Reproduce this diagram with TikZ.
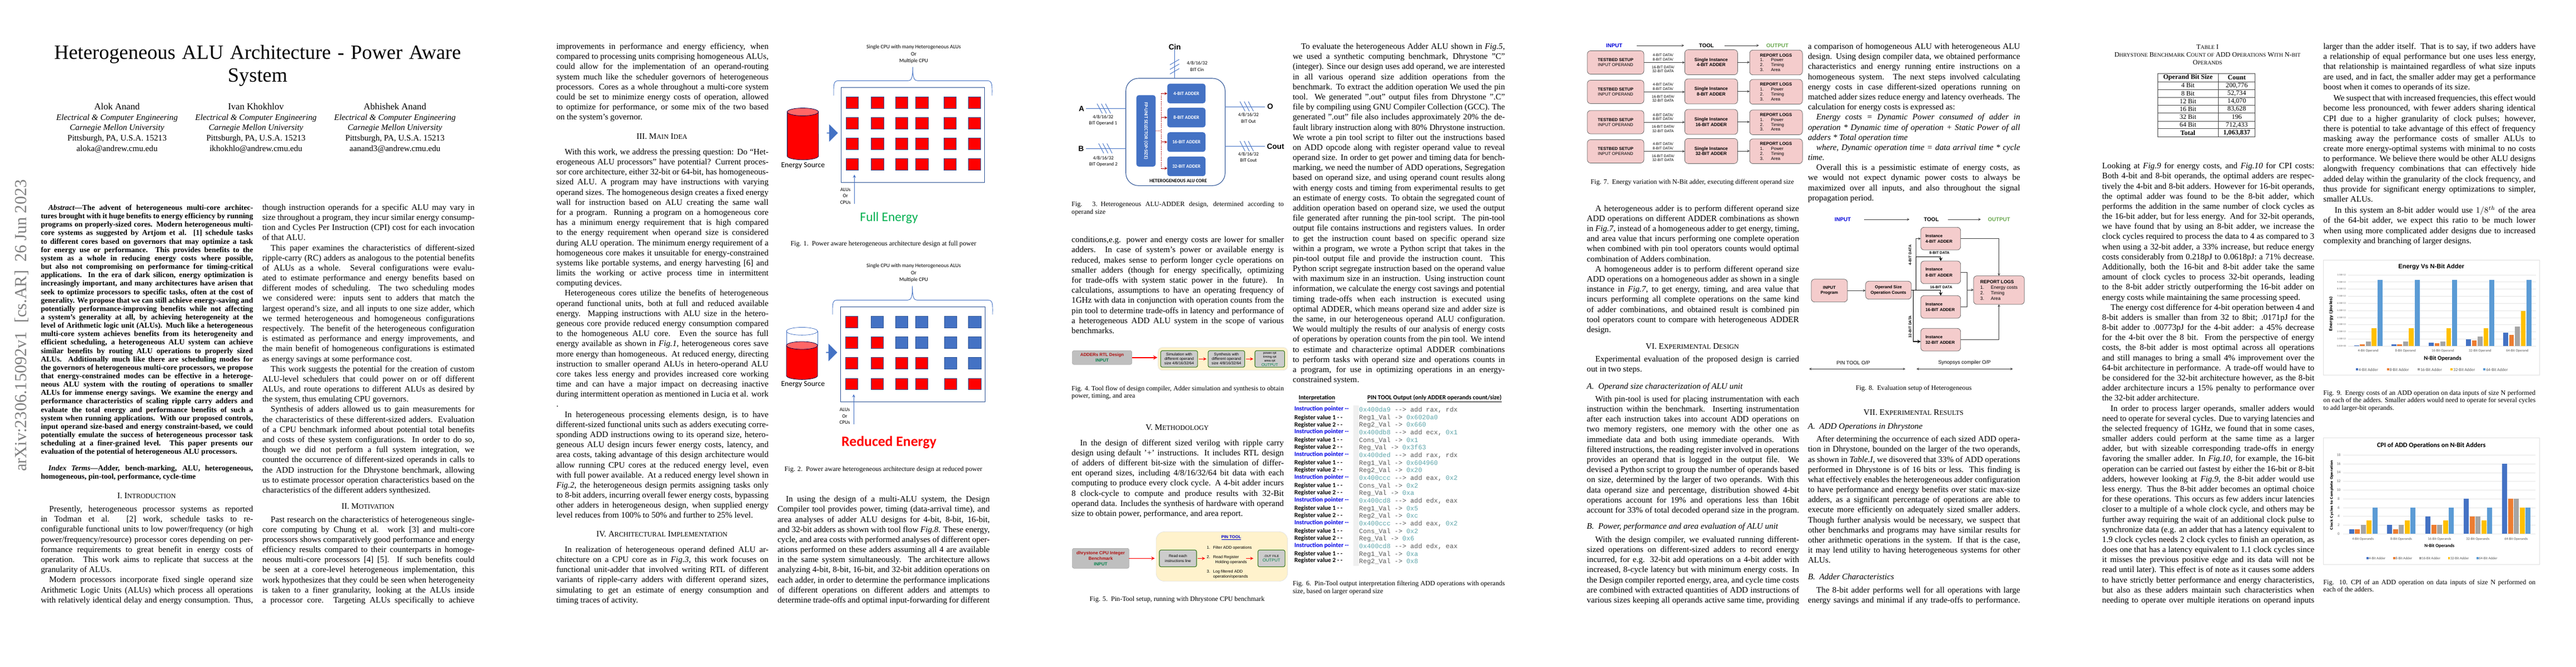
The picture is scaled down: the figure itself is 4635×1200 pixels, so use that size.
\documentclass[tikz,border=0pt]{standalone}
\usepackage{fontspec}
\setmainfont{Liberation Serif}
\setsansfont{Liberation Sans}
\setmonofont{Liberation Mono}
\newfontfamily\calibrifont{Carlito}
\newfontfamily\dejavufont{DejaVu Sans}
\usepackage{xcolor}
\usetikzlibrary{shapes.arrows, positioning, calc, arrows.meta}
\definecolor{alublue}{RGB}{68, 114, 196}
\definecolor{coreblue}{RGB}{47, 85, 151}
\definecolor{darkred}{RGB}{176, 16, 16}
\definecolor{fullgreen}{RGB}{0, 176, 80}
\definecolor{inputgreen}{RGB}{0, 128, 72}
\definecolor{outgreen}{RGB}{106, 168, 79}
\definecolor{boxgreen}{RGB}{56, 118, 29}
\definecolor{toolyellow}{RGB}{255, 242, 204}
\definecolor{boxpink}{RGB}{244, 204, 204}
\definecolor{hexteal}{RGB}{95, 165, 170}
\definecolor{barblue}{RGB}{68, 114, 196}
\definecolor{barorange}{RGB}{237, 125, 49}
\definecolor{bargray}{RGB}{165, 165, 165}
\definecolor{baryellow}{RGB}{255, 192, 0}
\definecolor{barsky}{RGB}{91, 155, 213}
\newcommand{\brk}{\linebreak}
\newcommand{\newp}[1][0pt]{\par\vspace{#1}\hspace*{1em}}
\newcommand{\colend}{{\parfillskip=0pt\par}}
\newcommand{\smc}[1]{{\fontsize{8}{9.6}\selectfont #1}}
\newcommand{\capsmc}[1]{{\fontsize{6.4}{9}\selectfont #1}}
\newcommand{\hexv}[1]{\textcolor{hexteal}{#1}}
\tikzset{
    bodycol/.style={
        anchor=base west, text width=252pt, align=justify,
        font=\fontsize{10}{12}\selectfont,
        execute at begin node={\hbadness=10000\spaceskip=.25em plus .4em minus .14em\relax}
    },
    abstractcol/.style={
        bodycol, font=\bfseries\fontsize{9}{10}\selectfont
    },
    capcol/.style={
        bodycol, font=\fontsize{8}{9}\selectfont
    },
    capcenter/.style={
        anchor=base, font=\fontsize{8}{9}\selectfont
    },
    headcenter/.style={
        anchor=base, font=\fontsize{10}{12}\selectfont
    },
    subhead/.style={
        anchor=base west, font=\itshape\fontsize{10}{12}\selectfont
    },
    boxsize/.style 2 args={
        minimum width=#1*0.66pt, minimum height=#2*0.66pt
    },
    sansfont/.style 2 args={font=\sffamily\fontsize{#1}{#2}\selectfont},
    sansbold/.style 2 args={font=\sffamily\bfseries\fontsize{#1}{#2}\selectfont},
    calfont/.style 2 args={font=\calibrifont\fontsize{#1}{#2}\selectfont},
    calbold/.style 2 args={font=\calibrifont\bfseries\fontsize{#1}{#2}\selectfont},
    alusquare/.style={
        draw=coreblue, line width=0.3pt, boxsize={22.3}{20.7}
    },
    adderbox/.style={
        fill=alublue, rounded corners=3pt, text=white, calbold={5.8}{7}
    },
    busline/.style={
        draw=alublue, line width=0.6pt
    },
    reddash/.style={
        draw=darkred, line width=0.5pt, dashed, dash pattern=on 1.4pt off 0.8pt
    },
    graybox/.style={
        draw=black!35, fill=black!25, rounded corners=2pt, line width=0.4pt, align=center
    },
    greenbox/.style={
        draw=boxgreen, fill=black!20, rounded corners=2pt, line width=0.7pt, align=center
    },
    yellowbox/.style={
        draw=black!12, fill=toolyellow, rounded corners=5pt, line width=0.4pt
    },
    flowarrow/.style={
        ->, >=stealth, red, line width=0.7pt
    },
    pinkbox/.style={
        draw=black!60, fill=boxpink, rounded corners=4pt, line width=0.5pt, align=center
    },
    thinarrow/.style={
        ->, >=stealth, black!75, line width=0.35pt
    },
    thinline/.style={
        black!75, line width=0.35pt
    },
    thickbus/.style={
        ->, >=stealth, black, line width=0.8pt
    },
    chartframe/.style={
        draw=black!12, line width=0.4pt, fill=white, boxsize={389.2}{207}
    },
    gridline/.style={
        draw=black!10, line width=0.3pt
    }
}
\begin{document}
\begin{tikzpicture}[
        x=0.66pt, y=-0.66pt,
        every node/.append style={inner sep=0pt, outer sep=0pt},
        >=stealth
    ]
    \useasboundingbox (0,0) rectangle (4635,1200);

    % ======================================
    % PAGE 1
    % ======================================
    \node[rotate=90, text=black!50, font=\fontsize{20}{24}\selectfont] (stamp) at (39,586)
        {arXiv:2306.15092v1\ \ [cs.AR]\ \ 26 Jun 2023};

    \node[align=center, font=\fontsize{24}{27}\selectfont] (title) at (463.5,118)
        {\makebox[483pt][s]{Heterogeneous ALU Architecture - Power Aware}\\System};

    \foreach \authx/\authname/\authmail [count=\authidx] in
        {210.6/Alok Anand/aloka, 460.5/Ivan Khokhlov/ikhokhlo, 710.6/Abhishek Anand/aanand3}{
        \node[align=center, font=\fontsize{10}{12.3}\selectfont] (author\authidx) at (\authx,230.5)
            {{\fontsize{11}{12.3}\selectfont \authname}\\\textit{Electrical \& Computer Engineering}\\
             \textit{Carnegie Mellon University}\\Pittsburgh, PA, U.S.A. 15213\\\authmail @andrew.cmu.edu};
    }

    \node[abstractcol] (abstract) at (73.5,378.5) {\hspace*{1em}\textit{Abstract}---The advent of heterogeneous multi-core architec-\brk
tures brought with it huge benefits to energy efficiency by running\brk
programs on properly-sized cores. Modern heterogeneous multi-\brk
core systems as suggested by Artjom et al. [1] schedule tasks\brk
to different cores based on governors that may optimize a task\brk
for energy use or performance. This provides benefits to the\brk
system as a whole in reducing energy costs where possible,\brk
but also not compromising on performance for timing-critical\brk
applications. In the era of dark silicon, energy optimization is\brk
increasingly important, and many architectures have arisen that\brk
seek to optimize processors to specific tasks, often at the cost of\brk
generality. We propose that we can still achieve energy-saving and\brk
potentially performance-improving benefits while not affecting\brk
a system's generality at all, by achieving heterogeneity at the\brk
level of Arithmetic logic unit (ALUs). Much like a heterogeneous\brk
multi-core system achieves benefits from its heterogeneity and\brk
efficient scheduling, a heterogeneous ALU system can achieve\brk
similar benefits by routing ALU operations to properly sized\brk
ALUs. Additionally much like there are scheduling modes for\brk
the governors of heterogeneous multi-core processors, we propose\brk
that energy-constrained modes can be effective in a heteroge-\brk
neous ALU system with the routing of operations to smaller\brk
ALUs for immense energy savings. We examine the energy and\brk
performance characteristics of scaling ripple carry adders and\brk
evaluate the total energy and performance benefits of such a\brk
system when running applications. With our proposed controls,\brk
input operand size-based and energy constraint-based, we could\brk
potentially emulate the success of heterogeneous processor task\brk
scheduling at a finer-grained level. This paper presents our\brk
evaluation of the potential of heterogeneous ALU processors.};

    \node[abstractcol] (indexterms) at (73.5,847) {\hspace*{1em}\textit{Index Terms}---Adder, bench-marking, ALU, heterogeneous,\brk
homogeneous, pin-tool, performance, cycle-time};

    \node[headcenter] (headintro) at (263.8,897.5) {I. I\smc{NTRODUCTION}};

    \node[bodycol] (introtext) at (73.5,921.6) {\hspace*{1em}Presently, heterogeneous processor systems as reported\brk
in Todman et al. [2] work, schedule tasks to re-\brk
configurable functional units to low power/frequency (or high\brk
power/frequency/resource) processor cores depending on per-\brk
formance requirements to great benefit in energy costs of\brk
operation. This work aims to replicate that success at the\brk
granularity of ALUs.
\newp Modern processors incorporate fixed single operand size\brk
Arithmetic Logic Units (ALUs) which process all operations\brk
with relatively identical delay and energy consumption. Thus,\colend};

    \node[bodycol] (introcont) at (472,378.3) {though instruction operands for a specific ALU may vary in\brk
size throughout a program, they incur similar energy consump-\brk
tion and Cycles Per Instruction (CPI) cost for each invocation\brk
of that ALU.
\newp This paper examines the characteristics of different-sized\brk
ripple-carry (RC) adders as analogous to the potential benefits\brk
of ALUs as a whole. Several configurations were evalu-\brk
ated to estimate performance and energy benefits based on\brk
different modes of scheduling. The two scheduling modes\brk
we considered were: inputs sent to adders that match the\brk
largest operand's size, and all inputs to one size adder, which\brk
we termed heterogeneous and homogeneous configurations\brk
respectively. The benefit of the heterogeneous configuration\brk
is estimated as performance and energy improvements, and\brk
the main benefit of homogeneous configurations is estimated\brk
as energy savings at some performance cost.
\newp This work suggests the potential for the creation of custom\brk
ALU-level schedulers that could power on or off different\brk
ALUs, and route operations to different ALUs as desired by\brk
the system, thus emulating CPU governors.
\newp Synthesis of adders allowed us to gain measurements for\brk
the characteristics of these different-sized adders. Evaluation\brk
of a CPU benchmark informed about potential total benefits\brk
and costs of these system configurations. In order to do so,\brk
though we did not perform a full system integration, we\brk
counted the occurrence of different-sized operands in calls to\brk
the ADD instruction for the Dhrystone benchmark, allowing\brk
us to estimate processor operation characteristics based on the\brk
characteristics of the different adders synthesized.};

    \node[headcenter] (headmotiv) at (662,916.3) {II. M\smc{OTIVATION}};

    \node[bodycol] (motivtext) at (472,940) {\hspace*{1em}Past research on the characteristics of heterogeneous single-\brk
core computing by Chung et al. work [3] and multi-core\brk
processors shows comparatively good performance and energy\brk
efficiency results compared to their counterparts in homoge-\brk
neous multi-core processors [4] [5]. If such benefits could\brk
be seen at a core-level heterogeneous implementation, this\brk
work hypothesizes that they could be seen when heterogeneity\brk
is taken to a finer granularity, looking at the ALUs inside\brk
a processor core. Targeting ALUs specifically to achieve\colend};

    % ======================================
    % PAGE 2
    % ======================================
    \node[bodycol] (motivcont) at (1001,88.6) {improvements in performance and energy efficiency, when\brk
compared to processing units comprising homogeneous ALUs,\brk
could allow for the implementation of an operand-routing\brk
system much like the scheduler governors of heterogeneous\brk
processors. Cores as a whole throughout a multi-core system\brk
could be set to minimize energy costs of operation, allowed\brk
to optimize for performance, or some mix of the two based\brk
on the system's governor.};

    \node[headcenter] (headidea) at (1191,250.5) {III. M\smc{AIN} I\smc{DEA}};

    \node[bodycol] (ideatext) at (1001,278.4) {\hspace*{1em}With this work, we address the pressing question: Do “Het-\brk
erogeneous ALU processors” have potential? Current proces-\brk
sor core architecture, either 32-bit or 64-bit, has homogeneous-\brk
sized ALU. A program may have instructions with varying\brk
operand sizes. The homogeneous design creates a fixed energy\brk
wall for instruction based on ALU creating the same wall\brk
for a program. Running a program on a homogeneous core\brk
has a minimum energy requirement that is high compared\brk
to the energy requirement when operand size is considered\brk
during ALU operation. The minimum energy requirement of a\brk
homogeneous core makes it unsuitable for energy-constrained\brk
systems like portable systems, and energy harvesting [6] and\brk
limits the working or active process time in intermittent\brk
computing devices.
\newp Heterogeneous cores utilize the benefits of heterogeneous\brk
operand functional units, both at full and reduced available\brk
energy. Mapping instructions with ALU size in the hetero-\brk
geneous core provide reduced energy consumption compared\brk
to the homogeneous ALU core. Even the source has full\brk
energy available as shown in \emph{Fig.1}, heterogeneous cores save\brk
more energy than homogeneous. At reduced energy, directing\brk
instruction to smaller operand ALUs in hetero-operand ALU\brk
core takes less energy and provides increased core working\brk
time and can have a major impact on decreasing inactive\brk
during intermittent operation as mentioned in Lucia et al. work\brk
[7].
\newp In heterogeneous processing elements design, is to have\brk
different-sized functional units such as adders executing corre-\brk
sponding ADD instructions owing to its operand size, hetero-\brk
geneous ALU design incurs fewer energy costs, latency, and\brk
area costs, taking advantage of this design architecture would\brk
allow running CPU cores at the reduced energy level, even\brk
with full power available. At a reduced energy level shown in\brk
\emph{Fig.2}, the heterogeneous design permits assigning tasks only\brk
to 8-bit adders, incurring overall fewer energy costs, bypassing\brk
other adders in heterogeneous design, when supplied energy\brk
level reduces from 100\% to 50\% and further to 25\% level.};

    \node[headcenter] (headarch) at (1191,966.8) {IV. A\smc{RCHITECTURAL} I\smc{MPLEMENTATION}};

    \node[bodycol] (archtext) at (1001,994.4) {\hspace*{1em}In realization of heterogeneous operand defined ALU ar-\brk
chitecture on a CPU core as in \emph{Fig.3}, this work focuses on\brk
functional unit-adder that involved writing RTL of different\brk
variants of ripple-carry adders with different operand sizes,\brk
simulating to get an estimate of energy consumption and\brk
timing traces of activity.};

    % Fig. 1: full energy
    \foreach \lineY/\cputext [count=\lineidx] in {85/Single CPU with many Heterogeneous ALUs, 97.2/Or, 109.5/Multiple CPU}{
        \node[calfont={6.4}{8}] (fullcpu\lineidx) at (1644,\lineY) {\cputext};
    }
    \draw[busline] (1500,172) .. controls (1500,155) and (1499,145.4) .. (1508,145.4) -- (1634,145.4)
        .. controls (1640,145.4) and (1642.3,140) .. (1642.3,120.5)
        .. controls (1642.3,140) and (1644.6,145.4) .. (1651,145.4) -- (1777,145.4)
        .. controls (1786,145.4) and (1785,155) .. (1785,172);
    \node[draw=coreblue, line width=0.5pt, boxsize={258.6}{170.7}] (fullcore) at (1642.3,242.6) {};
    \foreach \rowY [count=\rowidx] in {184.8,221.5,258.7,295.8}{
        \foreach \colX [count=\colidx] in {1533.5,1578.8,1622.5,1658.8,1709.3,1753.3}{
            \node[alusquare, fill=red] (fullalu\rowidx\colidx) at (\colX,\rowY) {};
        }
    }
    \filldraw[fill=red, draw=black!70!blue, line width=0.5pt] (1416.4,201.5) -- (1416.4,280.8)
        arc[start angle=180, end angle=360, x radius=18.6pt, y radius=4.6pt] -- (1472.7,201.5);
    \filldraw[fill=red!60!white, draw=black!70!blue, line width=0.5pt] (1444.5,201.5) ellipse[x radius=18.6pt, y radius=4.6pt];
    \node[single arrow, fill=alublue, boxsize={31.5}{20}, single arrow head extend=3.3pt, single arrow head indent=0pt] (fullflow) at (1497.2,239.5) {};
    \node[calfont={9}{11}] (fullsource) at (1444.8,298.5) {Energy Source};
    \node[calfont={6}{7.6}, align=center] (fullunits) at (1521.3,353) {ALUs\\Or\\CPUs};
    \coordinate (fullunitstip) at (1537.3,314.6);
    \draw[->, >=stealth, busline] (fullunitstip |- fullunits.south) -- (fullunitstip);
    \node[calfont={15.5}{18}, text=fullgreen] (fulltitle) at (1599.6,392) {Full Energy};
    \node[capcenter] (capone) at (1589.6,442) {Fig. 1.\enskip Power aware heterogeneous architecture design at full power};

    % Fig. 2: reduced energy
    \foreach \lineY/\cputext [count=\lineidx] in {479/Single CPU with many Heterogeneous ALUs, 491.4/Or, 503.6/Multiple CPU}{
        \node[calfont={6.4}{8}] (redcpu\lineidx) at (1644,\lineY) {\cputext};
    }
    \draw[busline] (1498,566.4) .. controls (1498,549) and (1497,540.4) .. (1506,540.4) -- (1633,540.4)
        .. controls (1639.5,540.4) and (1641.7,535) .. (1641.7,514.7)
        .. controls (1641.7,535) and (1644,540.4) .. (1650,540.4) -- (1778,540.4)
        .. controls (1787,540.4) and (1786,549) .. (1786,566.4);
    \node[draw=coreblue, line width=0.5pt, boxsize={260}{170.6}] (redcore) at (1642,637.9) {};
    \foreach \rowY/\nred [count=\rowidx] in {579.4/1, 616.4/2, 653.8/4, 691.1/6}{
        \foreach \colX [count=\colidx] in {1532,1578.3,1622.5,1658.3,1710,1753.8}{
            \ifnum\colidx>\nred \def\alucol{alublue}\else\def\alucol{red}\fi
            \node[alusquare, fill=\alucol] (redalu\rowidx\colidx) at (\colX,\rowY) {};
        }
    }
    \draw[draw=alublue, line width=0.5pt] (1415,596.4) -- (1415,622) (1471,596.4) -- (1471,622);
    \draw[draw=alublue, line width=0.5pt] (1443,596.4) ellipse[x radius=18.5pt, y radius=4.6pt];
    \filldraw[fill=red, draw=black!70!blue, line width=0.5pt] (1415,622) -- (1415,676.4)
        arc[start angle=180, end angle=360, x radius=18.5pt, y radius=4.6pt] -- (1471,622);
    \filldraw[fill=red!60!white, draw=black!70!blue, line width=0.5pt] (1443,622) ellipse[x radius=18.5pt, y radius=4.6pt];
    \node[single arrow, fill=alublue, boxsize={31.5}{20}, single arrow head extend=3.3pt, single arrow head indent=0pt] (redflow) at (1496,634.6) {};
    \node[calfont={9}{11}] (redsource) at (1444.8,691.8) {Energy Source};
    \node[calfont={6}{7.6}, align=center] (redunits) at (1520,749.5) {ALUs\\Or\\CPUs};
    \coordinate (redunitstip) at (1536,710);
    \draw[->, >=stealth, busline] (redunitstip |- redunits.south) -- (redunitstip);
    \node[calbold={17}{20}, text=red] (redtitle) at (1599.6,797) {Reduced Energy};
    \node[capcenter] (captwo) at (1589.6,848.3) {Fig. 2.\enskip Power aware heterogeneous architecture design at reduced power};

    \node[bodycol] (designtext) at (1399,903.7) {\hspace*{1em}In using the design of a multi-ALU system, the Design\brk
Compiler tool provides power, timing (data-arrival time), and\brk
area analyses of adder ALU designs for 4-bit, 8-bit, 16-bit,\brk
and 32-bit adders as shown with tool flow \emph{Fig.8}. These energy,\brk
cycle, and area costs with performed analyses of different oper-\brk
ations performed on these adders assuming all 4 are available\brk
in the same system simultaneously. The architecture allows\brk
analyzing 4-bit, 8-bit, 16-bit, and 32-bit addition operations on\brk
each adder, in order to determine the performance implications\brk
of different operations on different adders and attempts to\brk
determine trade-offs and optimal input-forwarding for different\colend};

    % ======================================
    % PAGE 3
    % ======================================
    % Fig. 3: ALU core
    \node[draw=coreblue, line width=0.7pt, fill=white, rounded corners=15pt, boxsize={178.6}{193.3}] (corebox) at (2115,237.65) {};
    \node[adderbox, boxsize={128.7}{34.6}, rotate=-90] (selector) at (2062,235.65) {FP-UNIT SELECTOR (OP-SIZE)};
    \foreach \addY/\addbits [count=\addidx] in {168.35/4-BIT, 211.65/8-BIT, 255.8/16-BIT, 299.5/32-BIT}{
        \node[adderbox, boxsize={68.7}{35.3}] (adder\addidx) at (2134.65,\addY) {\addbits\ ADDER};
    }
    \node[calbold={5.8}{7}] (corename) at (2120,325.7) {HETEROGENEOUS ALU CORE};
    \coordinate (redbus) at (2089.3,235.7);
    \draw[reddash] (selector.north) -- (redbus);
    \draw[reddash] (redbus |- adder1.west) -- (2089.3,303);
    \foreach \addidx in {1,2,3}{
        \draw[->, >=stealth, darkred, line width=0.5pt] (redbus |- adder\addidx.west) -- (adder\addidx.west);
    }
    \draw[->, >=stealth, darkred, line width=0.5pt] (2089.3,303) -- (2100.3,303);
    \node[sansbold={9}{11}] (portcin) at (2113.8,84.3) {Cin};
    \node[sansbold={9}{11}] (porta) at (1946,195.7) {A};
    \node[sansbold={9}{11}] (portb) at (1945.3,267.7) {B};
    \node[sansbold={9}{11}] (porto) at (2285.3,192) {O};
    \node[sansbold={9}{11}] (portcout) at (2295,263.3) {Cout};
    \draw[busline] (portcin.south) -- (portcin.south |- corebox.north);
    \draw[busline, shorten <=2.3pt] (porta.east) -- (porta.east -| corebox.west);
    \draw[busline, shorten <=2.3pt] (portb.east) -- (portb.east -| corebox.west);
    \draw[busline, shorten >=2.6pt] (porto.west -| corebox.east) -- (porto.west);
    \draw[busline, shorten >=2pt] (portcout.west -| corebox.east) -- (portcout.west);
    \foreach \dd in {0,8.3,16.6}{
        \draw[busline] (2105,116.7+\dd) -- (2121.7,107+\dd);
    }
    \foreach \dd in {0,7.6,15}{
        \draw[busline] (1974+\dd,186.7) -- (1983.3+\dd,204.3);
        \draw[busline] (1976.7+\dd,258.3) -- (1986+\dd,276);
        \draw[busline] (2231+\dd,182.7) -- (2240.3+\dd,200.3);
        \draw[busline] (2231+\dd,254) -- (2240.3+\dd,272.3);
    }
    \foreach \noteX/\noteY/\notetext [count=\noteidx] in
        {2154/119.5/BIT Cin, 1984.7/216.5/BIT Operand 1, 1985.3/290.8/BIT Operand 2, 2246.3/212.5/BIT Out, 2246.3/283/BIT Cout}{
        \node[calfont={5.8}{7.5}, align=center] (busnote\noteidx) at (\noteX,\noteY) {4/8/16/32\\\notetext};
    }
    \node[capcol] (capthree) at (1928.2,371.5) {Fig. 3.\enskip Heterogeneous ALU-ADDER design, determined according to\brk
operand size};

    \node[bodycol] (condtext) at (1928.2,436.8) {conditions,e.g. power and energy costs are lower for smaller\brk
adders. In case of system's power or available energy is\brk
reduced, makes sense to perform longer cycle operations on\brk
smaller adders (though for energy specifically, optimizing\brk
for trade-offs with system static power in the future). In\brk
calculations, assumptions to have an operating frequency of\brk
1GHz with data in conjunction with operation counts from the\brk
pin tool to determine trade-offs in latency and performance of\brk
a heterogeneous ADD ALU system in the scope of various\brk
benchmarks.};

    % Fig. 4: tool flow
    \node[graybox, boxsize={107.3}{24.9}, sansbold={5.2}{6.5}] (addersin) at (1983,643.85)
        {\textcolor{darkred}{ADDERs RTL Design}\\\textcolor{inputgreen}{INPUT}};
    \node[yellowbox, boxsize={233}{41}] (flowbg) at (2200.2,646.1) {};
    \node[greenbox, boxsize={66.4}{29.8}, sansfont={4.6}{5.4}] (simbox) at (2121.6,646.3) {Simulation with\\different operand\\size 4/8/16/32/64};
    \node[greenbox, boxsize={65.8}{29.8}, sansfont={4.6}{5.4}] (synbox) at (2206.7,646.3) {Synthesis with\\different operand\\size 4/8/16/32/64};
    \node[greenbox, boxsize={53.4}{29.8}, sansfont={3.8}{4.6}] (rptbox) at (2284.7,646.3) {power.rpt\\timing.rpt\\area.rpt\\[0.8pt]{\fontsize{4.8}{5}\selectfont\textcolor{inputgreen}{OUTPUT}}};
    \draw[flowarrow, line width=1.2pt, shorten >=0.8pt] (addersin.east) -- (addersin.east -| flowbg.west);
    \draw[flowarrow, shorten <=1.5pt, shorten >=2pt] (simbox) -- (synbox);
    \draw[flowarrow, shorten <=1.5pt, shorten >=2pt] (synbox) -- (rptbox);
    \node[capcol] (capfour) at (1928.2,703.3) {Fig. 4.\ Tool flow of design compiler, Adder simulation and synthesis to obtain\brk
power, timing, and area};

    \node[headcenter] (headmeth) at (2118,774) {V. M\smc{ETHODOLOGY}};

    \node[bodycol] (methtext) at (1928.2,802.2) {\hspace*{1em}In the design of different sized verilog with ripple carry\brk
design using default '+' instructions. It includes RTL design\brk
of adders of different bit-size with the simulation of differ-\brk
ent operand sizes, including 4/8/16/32/64 bit data with each\brk
computing to produce every clock cycle. A 4-bit adder incurs\brk
8 clock-cycle to compute and produce results with 32-Bit\brk
operand data. Includes the synthesis of hardware with operand\brk
size to obtain power, performance, and area report.};

    % Fig. 5: pin tool
    \node[graybox, boxsize={102}{36}, sansbold={5.3}{6.6}] (benchin) at (1980.4,1005.3)
        {\textcolor{darkred}{dhrystone CPU Integer}\\\textcolor{darkred}{Benchmark}\\\textcolor{inputgreen}{INPUT}};
    \node[yellowbox, rounded corners=10pt, boxsize={236.7}{89.2}] (pinbg) at (2198.4,1002) {};
    \node[sansbold={5}{6}, text=blue!80!black] (pintitle) at (2215.3,968.2) {\underline{PIN TOOL}};
    \node[greenbox, boxsize={67}{30.2}, sansfont={4.5}{5.6}] (readbox) at (2119.5,1005.5) {Read each\\instructions line};
    \node[greenbox, boxsize={48.7}{30.2}, sansfont={3.8}{5.5}] (outfile) at (2287.7,1005.5) {.OUT FILE\\{\fontsize{5.1}{5.5}\selectfont\textcolor{inputgreen}{OUTPUT}}};
    \node[anchor=west, sansfont={4.8}{5.6}] (itemone) at (2171.4,986.9) {\makebox[7.5pt][l]{1.}Filter ADD operations};
    \node[anchor=west, sansfont={4.8}{5.6}, align=left] (itemtwo) at (2171.4,1008.3) {\makebox[7.5pt][l]{2.}Read Register\\\hspace*{10pt}Holding operands};
    \node[anchor=west, sansfont={4.8}{5.6}, align=left] (itemthree) at (2171.4,1034.3) {\makebox[7.5pt][l]{3.}Log filtered ADD\\\hspace*{7.5pt}operation/operands};
    \draw[flowarrow, line width=0.9pt, shorten >=1.5pt] (benchin.east) -- (benchin.east -| pinbg.west);
    \draw[flowarrow, shorten <=1.6pt, shorten >=2pt] (readbox.east) -- (readbox.east -| itemtwo.west);
    \coordinate (itemtwoout) at (2242,1005.5);
    \draw[flowarrow, shorten >=5.4pt] (itemtwoout) -- (itemtwoout -| outfile.west);
    \node[capcenter] (capfive) at (2118,1082.1) {Fig. 5.\enskip Pin-Tool setup, running with Dhrystone CPU benchmark};

    \node[bodycol] (evaltext) at (2326,88.6) {\hspace*{1em}To evaluate the heterogeneous Adder ALU shown in \emph{Fig.5},\brk
we used a synthetic computing benchmark, Dhrystone ”C”\brk
(integer). Since our design uses add operand, we are interested\brk
in all various operand size addition operations from the\brk
benchmark. To extract the addition operation We used the pin\brk
[8] tool. We generated ”.out” output files from Dhrystone ”.C”\brk
file by compiling using GNU Compiler Collection (GCC). The\brk
generated ”.out” file also includes approximately 20\% the de-\brk
fault library instruction along with 80\% Dhrystone instruction.\brk
We wrote a pin tool script to filter out the instructions based\brk
on ADD opcode along with register operand value to reveal\brk
operand size. In order to get power and timing data for bench-\brk
marking, we need the number of ADD operations, Segregation\brk
based on operand size, and using operand count results along\brk
with energy costs and timing from experimental results to get\brk
an estimate of energy costs. To obtain the segregated count of\brk
addition operation based on operand size, we used the output\brk
file generated after running the pin-tool script. The pin-tool\brk
output file contains instructions and registers values. In order\brk
to get the instruction count based on specific operand size\brk
within a program, we wrote a Python script that takes in the\brk
pin-tool output file and provide the instruction count. This\brk
Python script segregate instruction based on the operand value\brk
with maximum size in an instruction. Using instruction count\brk
information, we calculate the energy cost savings and potential\brk
timing trade-offs when each instruction is executed using\brk
optimal ADDER, which means operand size and adder size is\brk
the same, in our heterogeneous operand ALU configuration.\brk
We would multiply the results of our analysis of energy costs\brk
of operations by operation counts from the pin tool. We intend\brk
to estimate and characterize optimal ADDER combinations\brk
to perform tasks with operand size and operations counts in\brk
a program, for use in optimizing operations in an energy-\brk
constrained system.};

    % Fig. 6: pin tool output
    \node[calbold={7.4}{9}] (interphead) at (2369.5,717.5) {\underline{Interpretation}};
    \node[calbold={7.4}{9}] (pinhead) at (2581,717.5) {\underline{PIN TOOL Output (only ADDER operands count/size)}};
    \fill[black!6] (2434.7,730) rectangle (2445.4,1019);
    \foreach \lineY [count=\lineidx] in {736.6,777.6,818.5,859.5,900.4,941,982}{
        \node[anchor=west, calbold={7.5}{9}, text=blue!90!black] (pointer\lineidx) at (2329,\lineY) {Instruction pointer --};
    }
    \foreach \lineY/\regnum [count=\lineidx] in {752/1,765/2,792.9/1,805.9/2,833.8/1,846.8/2,874.8/1,887.4/2,915.7/1,928.3/2,956.3/1,969.3/2,997.3/1,1009.9/2}{
        \node[anchor=west, calbold={7.5}{9}] (regvalue\lineidx) at (2329,\lineY) {Register value \regnum\ - -};
    }
    \foreach \lineY/\codeline [count=\lineidx] in {
        738.5/{\hexv{0x400da9} --> add rax, rdx}, 752.3/{Reg1\_Val -> \hexv{0x6020a0}}, 765.7/{Reg2\_Val -> \hexv{0x660}},
        779.5/{\hexv{0x400db8} --> add ecx, \hexv{0x1}}, 793.3/{Cons\_Val -> \hexv{0x1}}, 806.7/{Reg\_Val -> \hexv{0x3f63}},
        820.4/{\hexv{0x400ded} --> add rax, rdx}, 834.2/{Reg1\_Val -> \hexv{0x604960}}, 847.6/{Reg2\_Val -> \hexv{0x20}},
        861.4/{\hexv{0x400ccc} --> add eax, \hexv{0x2}}, 875.2/{Cons\_Val -> \hexv{0x2}}, 888.6/{Reg\_Val -> \hexv{0xa}},
        902.3/{\hexv{0x400cd8} --> add edx, eax}, 916.1/{Reg1\_Val -> \hexv{0x5}}, 929.5/{Reg2\_Val -> \hexv{0xc}},
        943.3/{\hexv{0x400ccc} --> add eax, \hexv{0x2}}, 957/{Cons\_Val -> \hexv{0x2}}, 970.5/{Reg\_Val -> \hexv{0x6}},
        984.2/{\hexv{0x400cd8} --> add edx, eax}, 998/{Reg1\_Val -> \hexv{0xa}}, 1011.8/{Reg2\_Val -> \hexv{0x8}}}{
        \node[anchor=west, text=black!65, font=\ttfamily\fontsize{7.8}{9}\selectfont] (codeline\lineidx) at (2445.4,\lineY) {\codeline};
    }
    \node[capcol] (capsix) at (2326,1054.6) {Fig. 6.\enskip Pin-Tool output interpretation filtering ADD operations with operands\brk
size, based on larger operand size};

    % ======================================
    % PAGE 4
    % ======================================
    % Fig. 7: single instance rows
    \node[sansbold={6.4}{8}, text=blue!85!black] (topinput) at (2904.5,81.9) {INPUT};
    \node[sansbold={6.4}{8}] (toptool) at (3070.5,81.9) {TOOL};
    \node[sansbold={6.4}{8}, text=outgreen] (topoutput) at (3198,81.9) {OUTPUT};
    \draw[thinarrow] (2945.4,81.9) -- (3030.2,81.9);
    \draw[thinarrow] (3102.6,81.9) -- (3164.8,81.9);
    \foreach \rowid/\ya/\yb/\yc/\bits in {a/112.5/112.1/112.5/4-BIT, b/165.5/164.6/165.3/8-BIT, c/220/219.5/220.2/16-BIT, d/272.5/271.9/272.3/32-BIT}{
        \node[pinkbox, boxsize={102}{42}, sansfont={5.1}{5.8}] (testbed\rowid) at (2906.9,\ya) {\textbf{TESTBED SETUP}\\INPUT OPERAND};
        \node[pinkbox, boxsize={95}{45}, sansbold={5.4}{6.3}] (single\rowid) at (3078.9,\yb) {Single Instance\\\bits\ ADDER};
        \node[pinkbox, boxsize={95}{44.6}, sansfont={5.2}{5.75}, align=left] (report\rowid) at (3195.6,\yc)
            {\textbf{REPORT LOGS}\\\makebox[13pt][l]{1.}Power\\\makebox[13pt][l]{2.}Timing\\\makebox[13pt][l]{3.}Area};
        \draw[thinarrow] (testbed\rowid) -- (testbed\rowid -| single\rowid.west);
        \draw[thinarrow] (single\rowid) -- (single\rowid -| report\rowid.west);
        \node[sansfont={4.4}{5}, align=center] (dataup\rowid) at (2992.3,\ya-9.4) {4-BIT DATA/\\8-BIT DATA/};
        \node[sansfont={4.4}{5}, align=center] (datadown\rowid) at (2992.3,\ya+12.3) {16-BIT DATA/\\32-BIT DATA};
    }
    \node[capcenter] (capseven) at (3045,331) {Fig. 7.\enskip Energy variation with N-Bit adder, executing different operand size};

    \node[bodycol] (combotext) at (2855.2,380.2) {\hspace*{1em}A heterogeneous adder is to perform different operand size\brk
ADD operations on different ADDER combinations as shown\brk
in \emph{Fig.7}, instead of a homogeneous adder to get energy, timing,\brk
and area value that incurs performing one complete operation\brk
when combined with pin tool operators counts would optimal\brk
combination of Adders combination.
\newp A homogeneous adder is to perform different operand size\brk
ADD operations on a homogeneous adder as shown in a single\brk
instance in \emph{Fig.7}, to get energy, timing, and area value that\brk
incurs performing all complete operations on the same kind\brk
of adder combinations, and obtained result is combined pin\brk
tool operators count to compare with heterogeneous ADDER\brk
design.};

    \node[headcenter] (headexp) at (3045,628.1) {VI. E\smc{XPERIMENTAL} D\smc{ESIGN}};

    \node[bodycol] (exptext) at (2855.2,651.5) {\hspace*{1em}Experimental evaluation of the proposed design is carried\brk
out in two steps.};

    \node[subhead] (subopsize) at (2855.2,700) {A.\enskip Operand size characterization of ALU unit};

    \node[bodycol] (opsizetext) at (2855.2,723.4) {\hspace*{1em}With pin-tool is used for placing instrumentation with each\brk
instruction within the benchmark. Inserting instrumentation\brk
after each instruction takes into account ADD operations on\brk
two memory registers, one memory with the other one as\brk
immediate data and both using immediate operands. With\brk
filtered instructions, the reading register involved in operations\brk
provides an operand that is logged in the output file. We\brk
devised a Python script to group the number of operands based\brk
on size, determined by the larger of two operands. With this\brk
data operand size and percentage, distribution showed 4-bit\brk
operations account for 19\% and operations less than 16bit\brk
account for 33\% of total decoded operand size in the program.\colend};

    \node[subhead] (subppa) at (2855.2,952.6) {B.\enskip Power, performance and area evaluation of ALU unit};

    \node[bodycol] (ppatext) at (2855.2,976.4) {\hspace*{1em}With the design compiler, we evaluated running different-\brk
sized operations on different-sized adders to record energy\brk
incurred, for e.g. 32-bit add operations on a 4-bit adder with\brk
increased, 8-cycle latency but with minimum energy costs. In\brk
the Design compiler reported energy, area, and cycle time costs\brk
are combined with extracted quantities of ADD instructions of\brk
various sizes keeping all operands active same time, providing\colend};

    \node[bodycol] (ppacont) at (3253,88.6) {a comparison of homogeneous ALU with heterogeneous ALU\brk
design. Using design compiler data, we obtained performance\brk
characteristics and energy running entire instructions on a\brk
homogeneous system. The next steps involved calculating\brk
energy costs in case different-sized operations running on\brk
matched adder sizes reduce energy and latency overheads. The\brk
calculation for energy costs is expressed as:
\newp \emph{Energy costs = Dynamic Power consumed of adder in\brk
operation * Dynamic time of operation + Static Power of all\brk
adders * Total operation time}
\newp \emph{where, Dynamic operation time = data arrival time * cycle\brk
time.}
\newp Overall this is a pessimistic estimate of energy costs, as\brk
we would not expect dynamic power costs to always be\brk
maximized over all inputs, and also throughout the signal\brk
propagation period.};

    % Fig. 8: evaluation setup
    \node[sansbold={6.4}{8}, text=blue!85!black] (evinput) at (3315.7,394.7) {INPUT};
    \node[sansbold={6.4}{8}] (evtool) at (3475,394.7) {TOOL};
    \node[sansbold={6.4}{8}, text=outgreen] (evoutput) at (3596.7,394.7) {OUTPUT};
    \draw[thinarrow] (3354.3,395) -- (3435.7,395);
    \draw[thinarrow] (3505,395) -- (3564,395);
    \node[pinkbox, boxsize={65}{41}, sansbold={5}{6.1}] (program) at (3291.5,523.2) {INPUT\\Program};
    \node[pinkbox, boxsize={82.3}{32.4}, sansbold={5}{6.1}] (opcounts) at (3397.85,522.5) {Operand Size\\Operation Counts};
    \foreach \instY/\instbits in {429.65/4, 490.35/8, 552.65/16, 611.65/32}{
        \node[pinkbox, boxsize={71.7}{40.7}, sansbold={5}{6.8}, text width=36pt, align=left] (inst\instbits) at (3491.85,\instY) {Instance\\\instbits-BIT ADDER};
    }
    \node[pinkbox, boxsize={91.3}{51.3}, sansfont={5.5}{6.5}, align=left] (reportlogs) at (3596.65,522.35)
        {\textbf{REPORT LOGS}\\\makebox[12.5pt][l]{1.}Energy costs\\\makebox[12.5pt][l]{2.}Timing\\\makebox[12.5pt][l]{3.}Area};
    \coordinate (busupper) at (3447.7,522.5);
    \coordinate (busturn) at (3447.7,462.3);
    \coordinate (buslower) at (3442.7,522.5);
    \coordinate (mergemid) at (3539.3,522);
    \draw[thinarrow] (program) -- (program -| opcounts.west);
    \draw[thickbus] (opcounts.east) -- (opcounts.east -| inst16.north) -- (inst16.north);
    \draw[thickbus] (busupper) -- (busturn) -- (busturn -| inst8.north) -- (inst8.north);
    \draw[thinarrow] (busturn) |- (inst4.west);
    \draw[thickbus] (buslower) |- ([yshift=-2.2pt]inst32.west);
    \draw[thinarrow] (inst4.east) -| (reportlogs.north);
    \draw[thinarrow] (inst32.east) -| (reportlogs.south);
    \draw[thinline] (inst8.east) -| (mergemid) |- (inst16.east);
    \draw[thinarrow] (mergemid) -- (mergemid -| reportlogs.west);
    \node[sansbold={4.4}{5}, rotate=90] (datafour) at (3436.7,459) {4-BIT DATA};
    \node[sansbold={4.4}{5}, rotate=90] (datathirtytwo) at (3436.7,588.3) {32-BIT DATA};
    \node[sansbold={4.4}{5}] (dataeight) at (3489.7,454.7) {8-BIT DATA};
    \node[sansbold={4.4}{5}] (datasixteen) at (3492.7,517.3) {16-BIT DATA};
    \node[sansfont={6}{7}] (pinoutput) at (3334.7,653.3) {PIN TOOL O/P};
    \node[sansfont={6}{7}] (synoutput) at (3534.7,653.3) {Synopsys compiler O/P};
    \draw[<->, >=stealth, thinline] (3255,664.3) -- (3428.3,664.3);
    \draw[<->, >=stealth, thinline] (3448.3,664.3) -- (3621.7,664.3);
    \node[capcenter] (capeight) at (3443.3,702.5) {Fig. 8.\enskip Evaluation setup of Heterogeneous};

    \node[headcenter] (headres) at (3443,747.5) {VII. E\smc{XPERIMENTAL} R\smc{ESULTS}};
    \node[subhead] (subdhry) at (3253,772) {A.\enskip ADD Operations in Dhrystone};

    \node[bodycol] (dhrytext) at (3253,795.7) {\hspace*{1em}After determining the occurrence of each sized ADD opera-\brk
tion in Dhrystone, bounded on the larger of the two operands,\brk
as shown in \emph{Table.I}, we disovered that 33\% of ADD operations\brk
performed in Dhrystone is of 16 bits or less. This finding is\brk
what effectively enables the heterogeneous adder configuration\brk
to have performance and energy benefits over static max-size\brk
adders, as a significant percentage of operations are able to\brk
execute more efficiently on adequately sized smaller adders.\brk
Though further analysis would be necessary, we suspect that\brk
other benchmarks and programs may have similar results for\brk
other arithmetic operations in the system. If that is the case,\brk
it may lend utility to having heterogeneous systems for other\brk
ALUs.};

    \node[subhead] (subadder) at (3253,1043.3) {B.\enskip Adder Characteristics};

    \node[bodycol] (addertext) at (3253,1067) {\hspace*{1em}The 8-bit adder performs well for all operations with large\brk
energy savings and minimal if any trade-offs to performance.\colend};

    % ======================================
    % PAGE 5
    % ======================================
    \node[align=center, font=\fontsize{8}{9.2}\selectfont] (tablecap) at (3972,99)
        {T\capsmc{ABLE} I\\D\capsmc{HRYSTONE} B\capsmc{ENCHMARK} C\capsmc{OUNT OF} ADD O\capsmc{PERATIONS} W\capsmc{ITH} N-\capsmc{BIT}\\O\capsmc{PERANDS}};
    \foreach \ruleY in {132.8,147,161.1,175.3,189.4,203.6,218.1,231.9,246.1}{
        \draw[black!70, line width=0.6pt] (3882.2,\ruleY) -- (4057.9,\ruleY);
    }
    \foreach \ruleX in {3882.2,3991.3,4057.9}{
        \draw[black!70, line width=0.6pt] (\ruleX,132.8) -- (\ruleX,246.1);
    }
    \foreach \cellY/\bitsize/\opcount [count=\cellidx] in {139.9/\textbf{Operand Bit Size}/\textbf{Count}, 154/4 Bit/{200,776}, 168.2/8 Bit/{52,734}, 182.3/12 Bit/{14,070},
        196.5/16 Bit/{83,628}, 210.8/32 Bit/196, 225/64 Bit/{712,433}, 239/\textbf{Total}/\textbf{1,063,837}}{
        \node[font=\fontsize{8}{9}\selectfont] (bitcell\cellidx) at (3936.7,\cellY) {\bitsize};
        \node[font=\fontsize{8}{9}\selectfont] (countcell\cellidx) at (4024.6,\cellY) {\opcount};
    }

    \node[bodycol] (costtext) at (3782.4,303.7) {Looking at \emph{Fig.9} for energy costs, and \emph{Fig.10} for CPI costs:\brk
Both 4-bit and 8-bit operands, the optimal adders are respec-\brk
tively the 4-bit and 8-bit adders. However for 16-bit operands,\brk
the optimal adder was found to be the 8-bit adder, which\brk
performs the addition in the same number of clock cycles as\brk
the 16-bit adder, but for less energy. And for 32-bit operands,\brk
we have found that by using an 8-bit adder, we increase the\brk
clock cycles required to process the data to 4 as compared to 3\brk
when using a 32-bit adder, a 33\% increase, but reduce energy\brk
costs considerably from 0.218pJ to 0.0618pJ: a 71\% decrease.\brk
Additionally, both the 16-bit and 8-bit adder take the same\brk
amount of clock cycles to process 32-bit operands, leading\brk
to the 8-bit adder strictly outperforming the 16-bit adder on\brk
energy costs while maintaining the same processing speed.
\newp The energy cost difference for 4-bit operation between 4 and\brk
8-bit adders is smaller than from 32 to 8bit; .0171pJ for the\brk
8-bit adder to .00773pJ for the 4-bit adder: a 45\% decrease\brk
for the 4-bit over the 8 bit. From the perspective of energy\brk
costs, the 8-bit adder is most optimal across all operations\brk
and still manages to bring a small 4\% improvement over the\brk
64-bit architecture in performance. A trade-off would have to\brk
be considered for the 32-bit architecture however, as the 8-bit\brk
adder architecture incurs a 15\% penalty to performance over\brk
the 32-bit adder architecture.
\newp In order to process larger operands, smaller adders would\brk
need to operate for several cycles. Due to varying latencies and\brk
the selected frequency of 1GHz, we found that in some cases,\brk
smaller adders could perform at the same time as a larger\brk
adder, but with sizeable corresponding trade-offs in energy\brk
favoring the smaller adder. In \emph{Fig.10}, for example, the 16-bit\brk
operation can be carried out fastest by either the 16-bit or 8-bit\brk
adders, however looking at \emph{Fig.9}, the 8-bit adder would use\brk
less energy. Thus the 8-bit adder becomes an optimal choice\brk
for these operations. This occurs as few adders incur latencies\brk
closer to a multiple of a whole clock cycle, and others may be\brk
further away requiring the wait of an additional clock pulse to\brk
synchronize data (e.g. an adder that has a latency equivalent to\brk
1.9 clock cycles needs 2 clock cycles to finish an operation, as\brk
does one that has a latency equivalent to 1.1 clock cycles since\brk
it misses the previous positive edge and its data will not be\brk
read until later). This effect is of note as it causes some adders\brk
to have strictly better performance and energy characteristics,\brk
but also as these adders maintain such characteristics when\brk
needing to operate over multiple iterations on operand inputs\colend};

    \node[bodycol] (costcont) at (4180.4,88.6) {larger than the adder itself. That is to say, if two adders have\brk
a relationship of equal performance but one uses less energy,\brk
that relationship is maintained regardless of what size inputs\brk
are used, and in fact, the smaller adder may get a performance\brk
boost when it comes to operands of its size.
\newp[1.4pt] We suspect that with increased frequencies, this effect would\brk
become less pronounced, with fewer adders sharing identical\brk
CPI due to a higher granularity of clock pulses; however,\brk
there is potential to take advantage of this effect of frequency\brk
masking away the performance costs of smaller ALUs to\brk
create more energy-optimal systems with minimal to no costs\brk
to performance. We believe there would be other ALU designs\brk
alongwith frequency combinations that can effectively hide\brk
added delay within the granularity of the clock frequency, and\brk
thus provide for significant energy optimizations to simpler,\brk
smaller ALUs.
\newp[1.4pt] In this system an 8-bit adder would use $1/8^{th}$ of the area\brk
of the 64-bit adder, we expect this ratio to be much lower\brk
when using more complicated adder designs due to increased\brk
complexity and branching of larger designs.};

    % Fig. 9: energy chart
    \node[chartframe] (energyframe) at (4375,571.9) {};
    \node[sansbold={7.3}{9}] (energytitle) at (4374.7,480.7) {Energy Vs N-Bit Adder};
    \node[rotate=90, font=\dejavufont\bfseries\fontsize{4.8}{6}\selectfont] (energyaxis) at (4194.4,565) {Energy (Joules)};
    \foreach \tickval/\ticktext in {0/0.00E+00,1/1.00E-13,2/2.00E-13,3/3.00E-13,4/4.00E-13,5/5.00E-13,6/6.00E-13,7/7.00E-13,8/8.00E-13,9/9.00E-13,10/1.00E-12}{
        \draw[gridline] (4224.8,{623-12.82*\tickval}) -- (4563.2,{623-12.82*\tickval});
        \node[calfont={2.9}{3.5}, text=black!60] (energytick\tickval) at (4213,{623-12.82*\tickval}) {\ticktext};
    }
    \foreach \grpname/\va/\vb/\vc/\vd/\ve [count=\grpidx from 0] in {4/0.09/0.21/0.66/2.47/9.3, 8/0.2/0.21/0.66/2.47/9.3, 16/0.45/0.36/0.66/2.47/9.3, 32/0.9/0.75/1.35/2.47/9.3, 64/1.87/1.56/2.73/4.95/9.3}{
        \foreach \barval/\barcol [count=\baridx from 0] in {\va/barblue,\vb/barorange,\vc/bargray,\vd/baryellow,\ve/barsky}{
            \fill[\barcol] ({4235.8+67.1*\grpidx+10.5*\baridx},623) rectangle ++(8.7,{-12.82*\barval});
        }
        \node[calfont={4.3}{5}, text=black!65] (energygroup\grpidx) at ({4261+67.1*\grpidx},632) {\grpname-Bit Operand};
    }
    \node[calbold={7}{8}] (energyxaxis) at (4395,645.5) {N-Bit Operands};
    \foreach \legX/\legbits/\legcol [count=\legidx] in {4239/4/barblue, 4294.5/8/barorange, 4350/16/bargray, 4409.4/32/baryellow, 4468.3/64/barsky}{
        \fill[\legcol] (\legX,663.4) rectangle ++(4,4);
        \node[anchor=west, calfont={5}{6}, text=black!65] (energylegend\legidx) at (\legX+5,665.4) {\legbits-Bit Adder};
    }
    \node[capcol] (capnine) at (4180.4,711.3) {Fig. 9.\enskip Energy costs of an ADD operation on data inputs of size N performed\brk
on each of the adders. Smaller adders would need to operate for several cycles\brk
to add larger-bit operands.};

    % Fig. 10: CPI chart
    \node[chartframe, boxsize={389.2}{228.1}] (cpiframe) at (4375,902.35) {};
    \node[calbold={8}{10}] (cpititle) at (4374.7,802) {CPI of ADD Operations on N-Bit Adders};
    \node[rotate=90, font=\dejavufont\bfseries\fontsize{4.1}{5}\selectfont] (cpiaxis) at (4195.6,891.4) {Clock Cycles to Complete Operation};
    \foreach \tickval in {0,2,...,18}{
        \draw[gridline] (4216,{961-7.875*\tickval}) -- (4561.5,{961-7.875*\tickval});
        \node[calfont={4.5}{5}, text=black!60] (cpitick\tickval) at (4207.8,{961-7.875*\tickval}) {\tickval};
    }
    \foreach \grpname/\va/\vb/\vc/\vd/\ve [count=\grpidx from 0] in {4/1/1/2/3/6, 8/2/1/2/3/6, 16/4/2/2/3/6, 32/8/4/4/3/6, 64/16/8/8/6/6}{
        \foreach \barval/\barcol [count=\baridx from 0] in {\va/barblue,\vb/barorange,\vc/bargray,\vd/baryellow,\ve/barsky}{
            \fill[\barcol] ({4226.5+68.9*\grpidx+10.5*\baridx},961) rectangle ++(9,{-7.875*\barval});
        }
        \node[calfont={4.2}{5}, text=black!65] (cpigroup\grpidx) at ({4251.6+68.9*\grpidx},970.5) {\grpname-Bit Operands};
    }
    \node[calbold={5.6}{7}] (cpixaxis) at (4389.3,983) {N-Bit Operands};
    \foreach \legX/\legbits/\legcol [count=\legidx] in {4258/4/barblue, 4306/8/barorange, 4353.2/16/bargray, 4404.6/32/baryellow, 4456/64/barsky}{
        \fill[\legcol] (\legX,1003) rectangle ++(3.6,4);
        \node[anchor=west, calfont={4.3}{5}, text=black!65] (cpilegend\legidx) at (\legX+4.2,1005) {\legbits-Bit Adder};
    }
    \node[capcol] (capten) at (4180.4,1052) {Fig. 10.\enskip CPI of an ADD operation on data inputs of size N performed on\brk
each of the adders.};

\end{tikzpicture}
\end{document}
